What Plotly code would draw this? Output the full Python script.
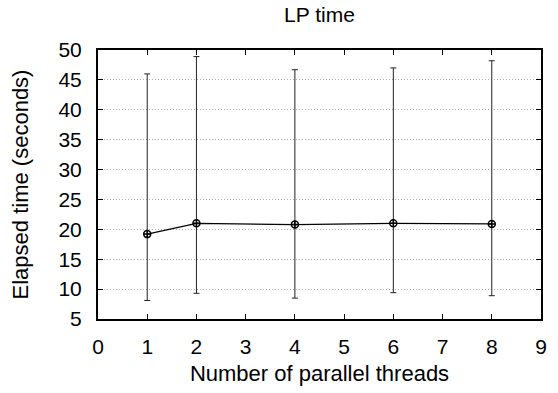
import plotly.graph_objects as go

threads = [1, 2, 4, 6, 8]
mean_time = [19.2, 21.0, 20.8, 21.0, 20.9]
max_time = [46.0, 48.9, 46.7, 47.0, 48.2]
min_time = [8.1, 9.3, 8.5, 9.4, 8.9]

err_plus = [mx - m for mx, m in zip(max_time, mean_time)]
err_minus = [m - mn for mn, m in zip(min_time, mean_time)]

x_ticks = list(range(0, 10))
y_ticks = list(range(5, 51, 5))

FONT = "Liberation Sans, Arial, sans-serif"

fig = go.Figure()
fig.add_trace(go.Scatter(
    x=threads, y=mean_time,
    mode="lines+markers",
    line=dict(color="black", width=1.2),
    marker=dict(symbol="circle-cross-open", size=7, color="black", line=dict(width=1.5, color="black")),
    error_y=dict(type="data", symmetric=False, array=err_plus, arrayminus=err_minus,
                 color="#222222", thickness=1, width=3),
    showlegend=False,
))

axis_common = dict(
    showline=True, linecolor="black", linewidth=2, mirror="ticks",
    ticks="inside", ticklen=5, tickcolor="black", tickwidth=1,
    tickfont=dict(family=FONT, size=21, color="black"),
    zeroline=False,
)

fig.update_layout(
    width=558, height=393,
    margin=dict(l=98, r=11, t=50, b=74),
    paper_bgcolor="white", plot_bgcolor="white",
    title=dict(text="LP time", x=0.5, xref="paper", xanchor="center",
               yref="container", y=(393 - 15) / 393, yanchor="middle",
               font=dict(family=FONT, size=21, color="black")),
    xaxis=dict(range=[0, 9], tickvals=x_ticks, showgrid=False, ticklabelstandoff=8,
               title=dict(text="Number of parallel threads", font=dict(family=FONT, size=22, color="black"), standoff=8),
               **axis_common),
    yaxis=dict(range=[5, 50], tickvals=y_ticks, showgrid=True, gridcolor="#b0b0b0", griddash="1px,2px", gridwidth=1,
               ticklabelstandoff=10,
               title=dict(text="Elapsed time (seconds)", font=dict(family=FONT, size=22, color="black"), standoff=24),
               **axis_common),
)

fig.write_html("out.html")
